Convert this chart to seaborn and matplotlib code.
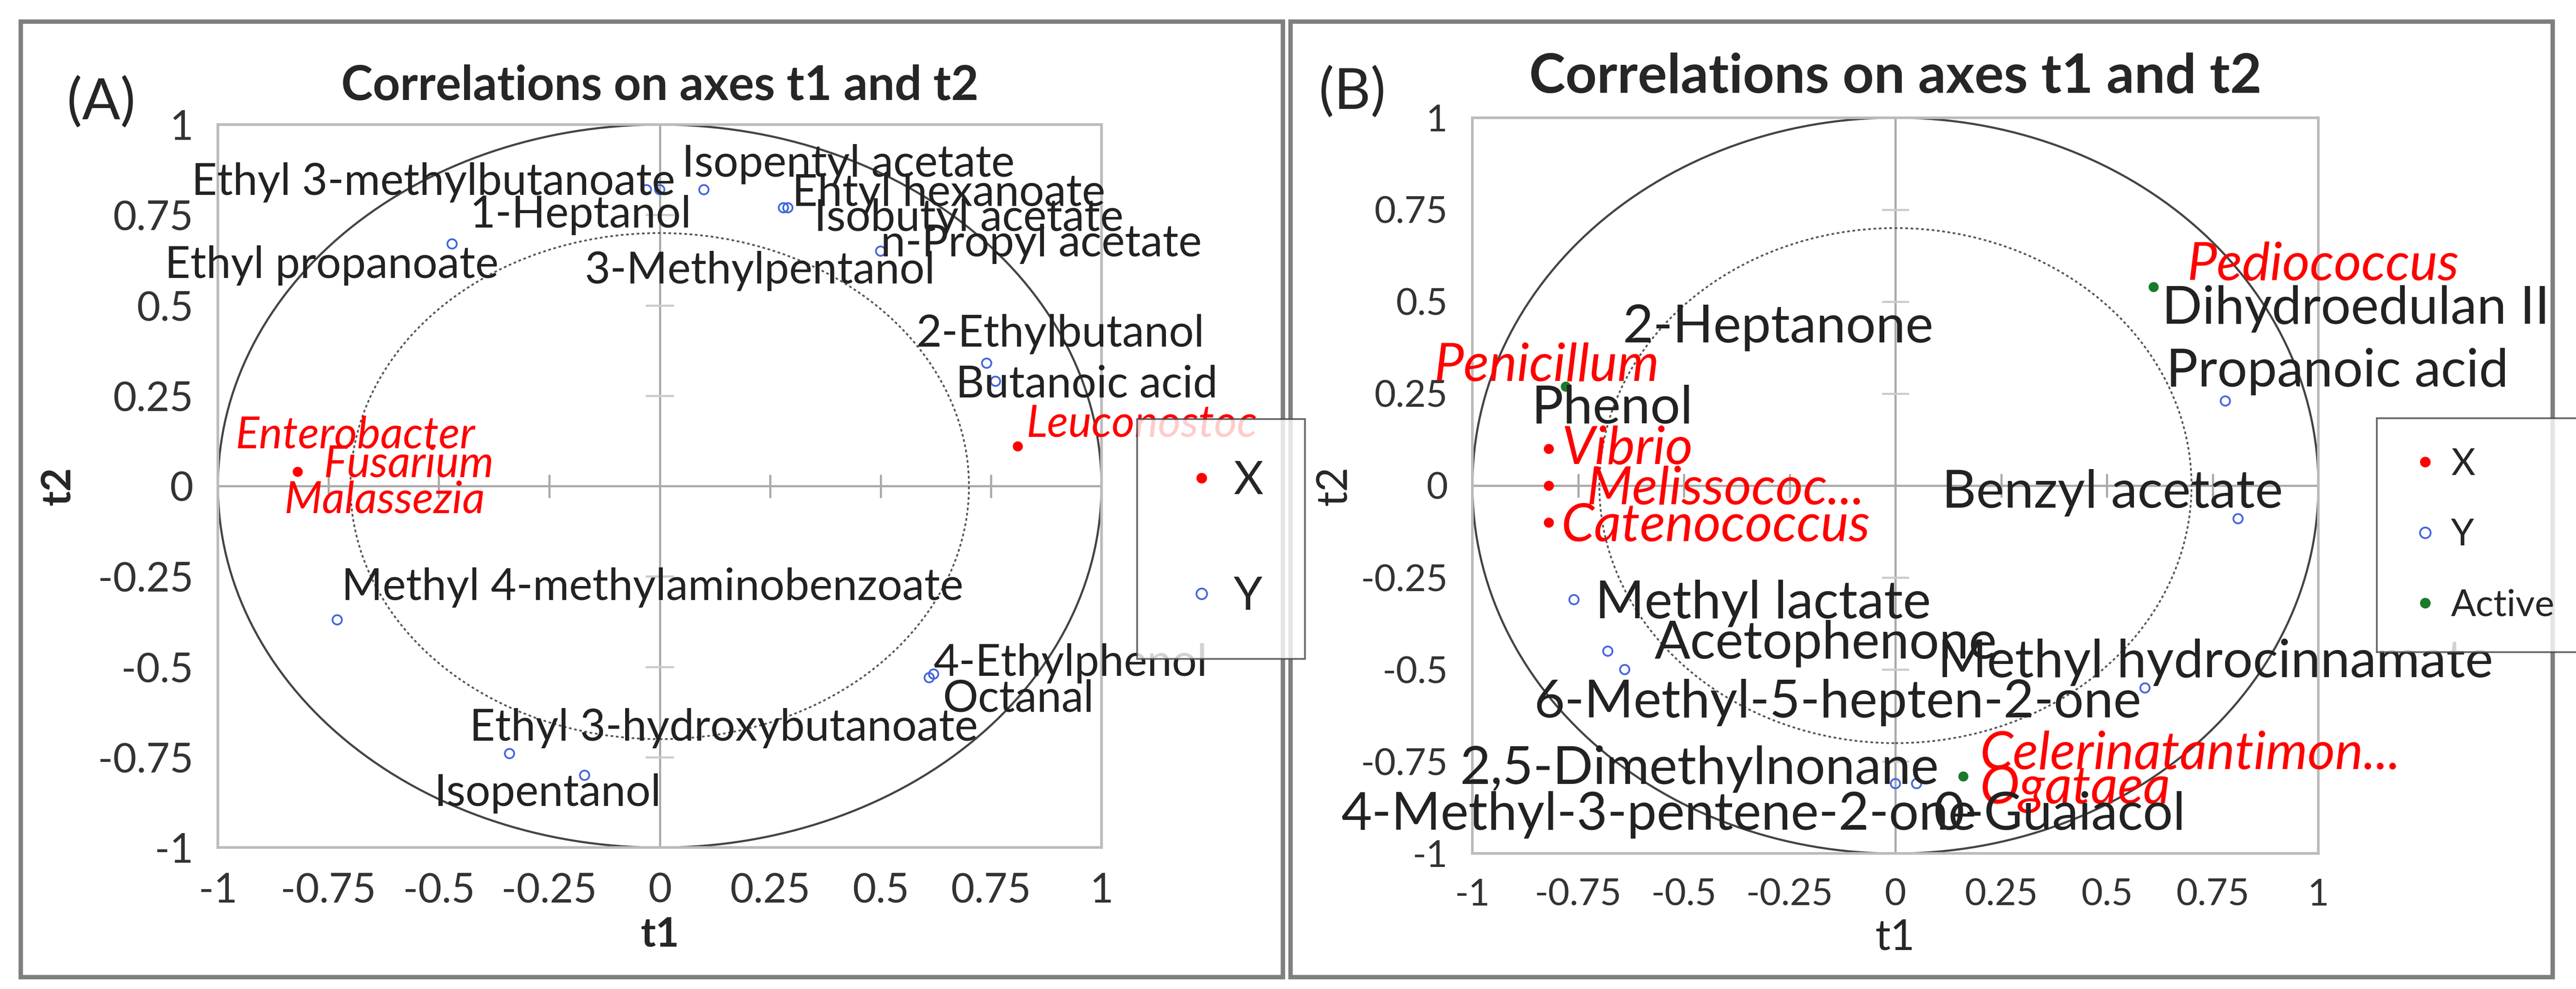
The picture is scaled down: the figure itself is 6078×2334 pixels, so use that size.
import numpy as np
import pandas as pd
import matplotlib.pyplot as plt
import seaborn as sns
from matplotlib.patches import Circle, Rectangle
from matplotlib.lines import Line2D

sns.set_style('white')
plt.rcParams['font.family'] = ['Lato', 'DejaVu Sans']

# ---- panel A data ----
a_group = ['Y', 'Y', 'Y', 'Y', 'Y', 'Y', 'Y', 'Y', 'Y', 'Y', 'Y', 'Y', 'Y', 'Y', 'X', 'X']
a_t1 = [-0.03, 0.00, 0.10, 0.28, 0.29, 0.50, -0.47, 0.74, 0.76, -0.73, 0.62, 0.61, -0.34, -0.17, -0.82, 0.81]
a_t2 = [0.82, 0.82, 0.82, 0.77, 0.77, 0.65, 0.67, 0.34, 0.29, -0.37, -0.52, -0.53, -0.74, -0.80, 0.04, 0.11]

a_labels = ['Ethyl 3-methylbutanoate', 'Isopentyl acetate', 'Ehtyl hexanoate', 'Isobutyl acetate',
            'n-Propyl acetate', '1-Heptanol', 'Ethyl propanoate', '3-Methylpentanol',
            '2-Ethylbutanol', 'Butanoic acid', 'Leuconostoc', 'Enterobacter', 'Fusarium',
            'Malassezia', 'Methyl 4-methylaminobenzoate', '4-Ethylphenol', 'Octanal',
            'Ethyl 3-hydroxybutanoate', 'Isopentanol']
a_label_group = ['Y'] * 10 + ['X'] * 4 + ['Y'] * 5
a_label_x = [-1.06, 0.05, 0.30, 0.35, 0.50, -0.43, -1.12, -0.17, 0.58, 0.67, 0.83, -0.96, -0.76,
             -0.85, -0.72, 0.62, 0.64, -0.43, -0.51]
a_label_y = [0.84, 0.89, 0.81, 0.74, 0.67, 0.75, 0.61, 0.595, 0.42, 0.28, 0.17, 0.14, 0.06,
             -0.04, -0.28, -0.49, -0.59, -0.67, -0.85]

# ---- panel B data ----
b_group = ['X', 'X', 'X', 'Active', 'Active', 'Active', 'Y', 'Y', 'Y', 'Y', 'Y', 'Y', 'Y', 'Y']
b_t1 = [-0.82, -0.82, -0.82, -0.78, 0.61, 0.16, 0.78, 0.81, -0.76, -0.68, -0.64, 0.59, 0.00, 0.05]
b_t2 = [0.10, 0.00, -0.10, 0.27, 0.54, -0.79, 0.23, -0.09, -0.31, -0.45, -0.50, -0.55, -0.81, -0.81]

b_labels = ['Pediococcus', 'Dihydroedulan II', 'Propanoic acid', '2-Heptanone', 'Penicillum',
            'Phenol', 'Vibrio', 'Melissococ...', 'Catenococcus', 'Benzyl acetate',
            'Methyl lactate', 'Acetophenone', 'Methyl hydrocinnamate', '6-Methyl-5-hepten-2-one',
            'Celerinatantimon...', 'Ogataea', '2,5-Dimethylnonane', '4-Methyl-3-pentene-2-one',
            '0-Guaiacol']
b_label_group = ['X', 'Y', 'Y', 'Y', 'X', 'Y', 'X', 'X', 'X', 'Y', 'Y', 'Y', 'Y', 'Y', 'X', 'X',
                 'Y', 'Y', 'Y']
b_label_x = [0.69, 0.63, 0.64, -0.645, -1.09, -0.86, -0.79, -0.73, -0.79, 0.11, -0.71, -0.57,
             0.10, -0.855, 0.20, 0.20, -1.03, -1.31, 0.09]
b_label_y = [0.60, 0.48, 0.31, 0.43, 0.325, 0.21, 0.10, -0.01, -0.11, -0.02, -0.32, -0.43,
             -0.48, -0.59, -0.73, -0.825, -0.77, -0.895, -0.895]

ticks = [-1, -0.75, -0.5, -0.25, 0, 0.25, 0.5, 0.75, 1]
tick_text = ['-1', '-0.75', '-0.5', '-0.25', '0', '0.25', '0.5', '0.75', '1']

fig = plt.figure(figsize=(20.26, 7.78), dpi=300)

# panel frames
for x0 in [0.008, 0.501]:
    fig.add_artist(Rectangle((x0, 0.012), 0.49, 0.966, transform=fig.transFigure,
                             fill=False, edgecolor='#7f7f7f', linewidth=2.5))


def draw_panel(ax, df, lab, lx, ly, lg, fs, tick_fs, title_fs):
    ax.add_patch(Circle((0, 0), 1, fill=False, edgecolor='#444444', lw=1.2, zorder=1))
    ax.add_patch(Circle((0, 0), 0.7, fill=False, edgecolor='#555555', lw=1.0, ls=(0, (1.5, 1.5)), zorder=1))
    ax.axhline(0, color='#aaaaaa', lw=1.2, zorder=0)
    ax.axvline(0, color='#aaaaaa', lw=1.2, zorder=0)
    for t in ticks:
        if t != 0:
            ax.plot([t, t], [-0.03, 0.03], color='#aaaaaa', lw=1.2, zorder=0)
            ax.plot([-0.03, 0.03], [t, t], color='#cccccc', lw=1.2, zorder=0)
    for g, fc, ec in [('X', 'red', 'red'), ('Y', 'none', '#4466dd'),
                      ('Active', '#1a7a2a', '#1a7a2a')]:
        sub = df[df.group == g]
        if len(sub):
            sns.scatterplot(data=sub, x='t1', y='t2', ax=ax, marker='o', s=28 if g == 'Y' else 22,
                            facecolors=fc, edgecolor=ec, linewidth=1.0, legend=False, zorder=3)
    for t, x, y, g in zip(lab, lx, ly, lg):
        ax.text(x, y, t, fontsize=fs, va='center', ha='left', clip_on=False,
                color='red' if g == 'X' else '#222222', style='italic' if g == 'X' else 'normal',
                zorder=4)
    ax.set_xlim(-1, 1)
    ax.set_ylim(-1, 1)
    ax.set_xticks(ticks)
    ax.set_yticks(ticks)
    ax.set_xticklabels(tick_text, fontsize=tick_fs, color='#333333')
    ax.set_yticklabels(tick_text, fontsize=tick_fs, color='#333333')
    ax.tick_params(length=0, pad=14)
    for s in ax.spines.values():
        s.set_edgecolor('#bbbbbb')
        s.set_linewidth(1.5)
    ax.set_title('Correlations on axes t1 and t2', fontsize=title_fs, fontweight='bold', pad=14)


dfa = pd.DataFrame({'group': a_group, 't1': a_t1, 't2': a_t2})
axa = fig.add_axes([0.0846, 0.143, 0.343, 0.731])
draw_panel(axa, dfa, a_labels, a_label_x, a_label_y, a_label_group, 25, 23, 27)
axa.set_xlabel('t1', fontsize=23, fontweight='bold')
axa.set_ylabel('t2', fontsize=23, fontweight='bold', labelpad=12)
fig.text(0.026, 0.88, '(A)', fontsize=32)

dfb = pd.DataFrame({'group': b_group, 't1': b_t1, 't2': b_t2})
axb = fig.add_axes([0.5716, 0.137, 0.3284, 0.744])
draw_panel(axb, dfb, b_labels, b_label_x, b_label_y, b_label_group, 30, 21, 31)
axb.set_xlabel('t1', fontsize=24)
axb.set_ylabel('t2', fontsize=24)
fig.text(0.512, 0.89, '(B)', fontsize=32)

# legends
la = [Line2D([], [], marker='o', ls='', color='red', markersize=5, label='X'),
      Line2D([], [], marker='o', ls='', markerfacecolor='none', markeredgecolor='#4466dd',
             markersize=6, label='Y')]
fig.legend(handles=la, loc='center', bbox_to_anchor=(0.474, 0.455), fontsize=26, frameon=True,
           fancybox=False, edgecolor='#444444', handletextpad=0.2, labelspacing=1.6,
           borderpad=0.9, handlelength=1.0)
lb = la + [Line2D([], [], marker='o', ls='', color='#1a7a2a', markersize=5, label='Active')]
fig.legend(handles=lb, loc='center', bbox_to_anchor=(0.963, 0.459), fontsize=21, frameon=True,
           fancybox=False, edgecolor='#444444', handletextpad=0.2, labelspacing=1.0,
           borderpad=0.8, handlelength=1.0)

fig.savefig('out.png', dpi=300, facecolor='white')
